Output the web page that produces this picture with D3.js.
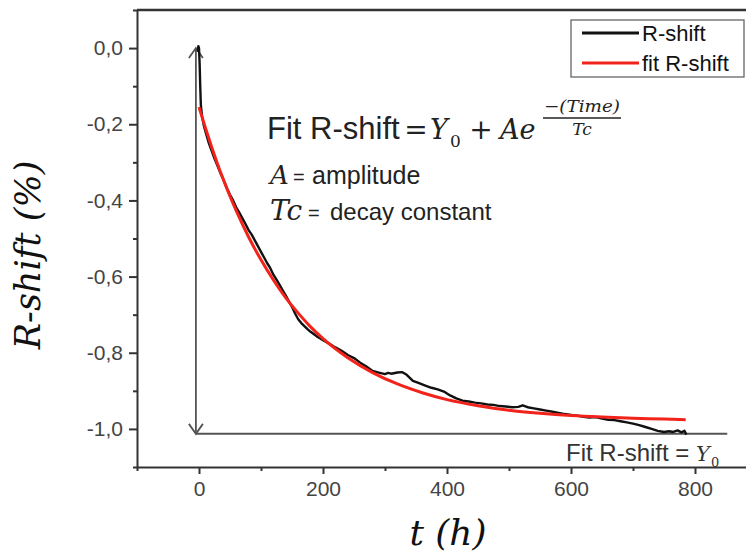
<!DOCTYPE html>
<html><head><meta charset="utf-8">
<script src="https://cdn.jsdelivr.net/npm/d3@7"></script>
<style>body{margin:0;background:#fff}svg{display:block}</style>
</head><body><svg id="c" width="746" height="553"></svg>
<script>
// ---- data ----
const timeH = [-2,-1,0,1,2,3,5,8,12,16,20,25,30,35,40,45,50,55,60,65,70,75,80,85,90,95,100,105,110,115,120,125,130,135,140,145,150,155,160,165,170,175,180,185,190,195,200,210,220,230,240,250,260,270,280,290,300,305,310,320,328,335,345,355,365,375,385,395,405,415,425,435,445,455,465,475,485,495,505,515,522,530,540,550,560,570,580,590,600,610,620,630,640,650,660,670,680,690,700,710,720,730,740,750,758,765,772,778,783,786];
const rShift = [-0.01,0.005,0.0,-0.04,-0.10,-0.15,-0.18,-0.205,-0.228,-0.25,-0.268,-0.29,-0.31,-0.33,-0.348,-0.368,-0.385,-0.40,-0.418,-0.432,-0.447,-0.462,-0.478,-0.49,-0.505,-0.52,-0.535,-0.55,-0.565,-0.578,-0.595,-0.608,-0.622,-0.636,-0.65,-0.665,-0.68,-0.697,-0.712,-0.722,-0.73,-0.738,-0.745,-0.751,-0.757,-0.762,-0.767,-0.776,-0.786,-0.795,-0.806,-0.814,-0.826,-0.836,-0.848,-0.852,-0.856,-0.853,-0.855,-0.852,-0.851,-0.858,-0.874,-0.880,-0.886,-0.892,-0.896,-0.902,-0.912,-0.92,-0.926,-0.928,-0.931,-0.933,-0.936,-0.937,-0.94,-0.941,-0.943,-0.942,-0.938,-0.943,-0.946,-0.949,-0.952,-0.955,-0.958,-0.961,-0.963,-0.965,-0.968,-0.970,-0.969,-0.973,-0.976,-0.977,-0.98,-0.983,-0.986,-0.99,-0.995,-1.0,-1.005,-1.008,-1.006,-1.008,-1.004,-1.009,-1.005,-1.015];
const fitTimeH = [0,10,20,30,40,50,60,80,100,120,140,160,180,200,240,280,320,360,400,450,500,550,600,650,700,750,785];
const fitRShift = [-0.155,-0.208,-0.258,-0.305,-0.348,-0.389,-0.427,-0.496,-0.556,-0.609,-0.656,-0.696,-0.732,-0.763,-0.813,-0.852,-0.882,-0.905,-0.923,-0.939,-0.951,-0.959,-0.965,-0.969,-0.972,-0.974,-0.976];
const xTickValues = [0,200,400,600,800];
const xTickLabels = ["0","200","400","600","800"];
const xMinorTicks = [-100,100,300,500,700,900];
const yTickValues = [0,-0.2,-0.4,-0.6,-0.8,-1.0];
const yTickLabels = ["0,0","-0,2","-0,4","-0,6","-0,8","-1,0"];
const yMinorTicks = [0.1,-0.1,-0.3,-0.5,-0.7,-0.9,-1.1];
const seriesNames = ["R-shift","fit R-shift"];
const seriesColors = ["#111111","#f2231b"];
const y0Level = -1.013;   // asymptote marker level
const arrowTime = -5;
const y0LineEnd = 852;

// ---- chart ----
const svg = d3.select("#c");
const x = d3.scaleLinear().domain([-100, 900]).range([137, 757]);
const y = d3.scaleLinear().domain([-1.1, 0.1]).range([467, 10]);
const sans = "'Liberation Sans', Arial, sans-serif";
const mathF = "'DejaVu Serif', serif";

// axes
const gx = svg.append("g").attr("transform", `translate(0,${y(-1.1)})`)
  .call(d3.axisBottom(x).tickValues(xTickValues).tickSize(7).tickSizeOuter(0).tickPadding(7)
    .tickFormat((d,i) => xTickLabels[i]));
const gxm = svg.append("g").attr("transform", `translate(0,${y(-1.1)})`)
  .call(d3.axisBottom(x).tickValues(xMinorTicks).tickSize(4).tickFormat(""));
gxm.select(".domain").remove();
const gy = svg.append("g").attr("transform", `translate(${x(-100)},0)`)
  .call(d3.axisLeft(y).tickValues(yTickValues).tickSize(8).tickSizeOuter(0).tickPadding(6)
    .tickFormat((d,i) => yTickLabels[i]));
const gym = svg.append("g").attr("transform", `translate(${x(-100)},0)`)
  .call(d3.axisLeft(y).tickValues(yMinorTicks).tickSize(4).tickFormat(""));
gym.select(".domain").remove();
[gx, gy, gxm, gym].forEach(g => {
  g.selectAll("path.domain").attr("stroke", "#333").attr("stroke-width", 2);
  g.selectAll(".tick line").attr("stroke", "#333").attr("stroke-width", 2);
  g.selectAll(".tick text").attr("fill", "#444").style("font-family", sans).style("font-size", "21px");
});
// top frame line
svg.append("line").attr("x1", x(-100)).attr("x2", 746).attr("y1", y(0.1)).attr("y2", y(0.1))
  .attr("stroke", "#333").attr("stroke-width", 2.5);

// asymptote / amplitude annotation
const gray = "#555";
svg.append("line").attr("x1", x(arrowTime)).attr("x2", x(arrowTime)).attr("y1", y(0)).attr("y2", y(y0Level))
  .attr("stroke", gray).attr("stroke-width", 1.8);
svg.append("line").attr("x1", x(arrowTime)).attr("x2", x(y0LineEnd)).attr("y1", y(y0Level)).attr("y2", y(y0Level))
  .attr("stroke", gray).attr("stroke-width", 2);
const ax = x(arrowTime), at = y(0), ab = y(y0Level);
svg.append("path").attr("d", `M${ax-7},${at+10}L${ax},${at}L${ax+7},${at+10}`)
  .attr("fill", "none").attr("stroke", gray).attr("stroke-width", 1.8);
svg.append("path").attr("d", `M${ax-7},${ab-10}L${ax},${ab}L${ax+7},${ab-10}`)
  .attr("fill", "none").attr("stroke", gray).attr("stroke-width", 1.8);

// series
const line = d3.line().x(d => x(d[0])).y(d => y(d[1]));
svg.append("path").datum(timeH.map((t,i) => [t, rShift[i]])).attr("d", line)
  .attr("fill", "none").attr("stroke", seriesColors[0]).attr("stroke-width", 2.4).attr("stroke-linejoin", "round");
svg.append("path").datum(fitTimeH.map((t,i) => [t, fitRShift[i]])).attr("d", line.curve(d3.curveMonotoneX))
  .attr("fill", "none").attr("stroke", seriesColors[1]).attr("stroke-width", 3).attr("stroke-linejoin", "round");

// legend
const lg = svg.append("g");
lg.append("rect").attr("x", 571).attr("y", 20).attr("width", 173).attr("height", 57)
  .attr("fill", "#fff").attr("stroke", "#666").attr("stroke-width", 1.3);
seriesNames.forEach((n, i) => {
  const yy = 33 + i * 30;
  lg.append("line").attr("x1", 582).attr("x2", 639).attr("y1", yy).attr("y2", yy)
    .attr("stroke", seriesColors[i]).attr("stroke-width", 3);
  lg.append("text").attr("x", 642).attr("y", yy + 8).text(n)
    .style("font-family", sans).style("font-size", "22px").attr("fill", "#111");
});

// formula annotation
const ink = "#222";
function t(xp, yp, s, fam, size, opts = {}) {
  const e = svg.append("text").attr("x", xp).attr("y", yp).text(s)
    .style("font-family", fam).style("font-size", size + "px").attr("fill", opts.fill || ink);
  if (opts.italic) e.style("font-style", "italic");
  if (opts.anchor) e.attr("text-anchor", opts.anchor);
  if (opts.len) e.attr("textLength", opts.len).attr("lengthAdjust", "spacingAndGlyphs");
  return e;
}
t(267, 139, "Fit R-shift", sans, 31);
t(416, 139, "=", mathF, 28, {anchor: "middle"});
t(430, 139, "Y", mathF, 27, {italic: true});
t(450, 147, "0", mathF, 17);
t(481, 139, "+", mathF, 28, {anchor: "middle"});
t(500, 139, "Ae", mathF, 27, {italic: true});
t(582, 112, "\u2212(Time)", mathF, 17, {italic: true, anchor: "middle", len: 76});
svg.append("line").attr("x1", 543).attr("x2", 621).attr("y1", 118).attr("y2", 118).attr("stroke", ink).attr("stroke-width", 1.3);
t(582, 135, "Tc", mathF, 17, {italic: true, anchor: "middle"});

t(270, 184, "A", mathF, 26, {italic: true});
t(293, 184, "=", sans, 20);
t(312, 184, "amplitude", sans, 25);
t(270, 220, "Tc", mathF, 28, {italic: true});
t(308, 220, "=", sans, 20);
t(330, 220, "decay constant", sans, 24);

// bottom asymptote label
t(566, 461, "Fit R-shift = ", sans, 24, {fill: "#333"});
t(696, 461, "Y", mathF, 21, {italic: true, fill: "#333"});
t(711, 467, "0", mathF, 13, {fill: "#333"});

// axis titles
svg.append("text").attr("transform", "translate(40,255) rotate(-90)").attr("text-anchor", "middle")
  .text("R-shift (%)").style("font-family", mathF).style("font-style", "italic").style("font-size", "35px").attr("fill", "#111");
svg.append("text").attr("x", 448).attr("y", 545).attr("text-anchor", "middle")
  .text("t (h)").style("font-family", mathF).style("font-style", "italic").style("font-size", "36px").attr("fill", "#111");
</script></body></html>
